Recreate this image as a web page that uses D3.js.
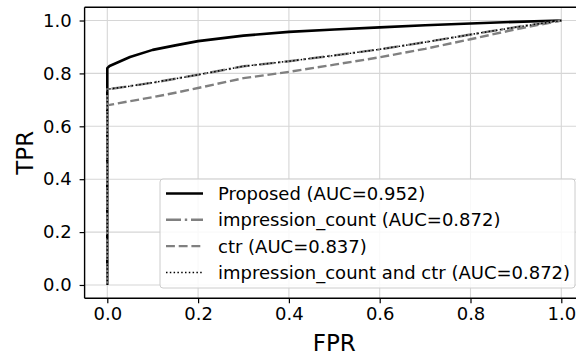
<!DOCTYPE html>
<html><head><meta charset="utf-8">
<script src="https://cdn.jsdelivr.net/npm/d3@7"></script>
<style>html,body{margin:0;padding:0;background:#fff;}svg{display:block;font-family:"DejaVu Sans",sans-serif;}</style>
</head><body><svg id="c" width="576" height="358"></svg>
<script>
const fpr = [0,0,0.005,0.05,0.1,0.15,0.2,0.3,0.4,0.5,0.6,0.7,0.8,0.9,1];
const tprProposed = [0,0.82,0.828,0.862,0.889,0.906,0.922,0.943,0.957,0.966,0.974,0.982,0.989,0.995,1];
const tprImpression = [0,0.74,0.741,0.752,0.765,0.78,0.795,0.827,0.846,0.868,0.891,0.918,0.947,0.975,1];
const tprCtr = [0,0.68,0.681,0.695,0.71,0.727,0.745,0.782,0.806,0.833,0.861,0.893,0.929,0.967,1];
const tprCombined = [0,0.74,0.741,0.752,0.765,0.78,0.795,0.827,0.846,0.868,0.891,0.918,0.947,0.975,1];
const seriesLabels = ["Proposed (AUC=0.952)","impression_count (AUC=0.872)","ctr (AUC=0.837)","impression_count and ctr (AUC=0.872)"];
const xTicks = [0,0.2,0.4,0.6,0.8,1.0];
const yTicks = [0,0.2,0.4,0.6,0.8,1.0];

const styles = [
  {color:"#000", width:2.6, dash:null},
  {color:"#808080", width:2.4, dash:"15,3.8,2.4,3.8"},
  {color:"#808080", width:2.4, dash:"8.9,3.8"},
  {color:"#000", width:1.5, dash:"1.5,2.3"}
];
const tprs = [tprProposed, tprImpression, tprCtr, tprCombined];

const svg = d3.select("#c");
const x = d3.scaleLinear().domain([-0.05,1.05]).range([84.6,584]);
const y = d3.scaleLinear().domain([-0.05,1.05]).range([298.2,7.3]);
const L = 84.6, R = 584, T = 7.3, B = 298.2;

// grid
const grid = svg.append("g");
grid.selectAll("line.gx").data(xTicks).join("line")
  .attr("x1",d=>x(d)).attr("x2",d=>x(d)).attr("y1",T).attr("y2",B)
  .attr("stroke","#d6d6d6").attr("stroke-width",1.1);
grid.selectAll("line.gy").data(yTicks).join("line").attr("class","gy")
  .attr("y1",d=>y(d)).attr("y2",d=>y(d)).attr("x1",L).attr("x2",R)
  .attr("stroke","#d6d6d6").attr("stroke-width",1.1);

// lines
const line = d3.line().x(d=>x(d[0])).y(d=>y(d[1]));
tprs.forEach((t,i)=>{
  const pts = fpr.map((f,j)=>[f,t[j]]);
  const p = svg.append("path").datum(pts).attr("d",line)
    .attr("fill","none").attr("stroke",styles[i].color).attr("stroke-width",styles[i].width)
    .attr("stroke-linejoin","round");
  if(styles[i].dash) p.attr("stroke-dasharray",styles[i].dash);
});

// axes
const fs = 18;
const xAxis = d3.axisBottom(x).tickValues(xTicks).tickFormat(d3.format(".1f")).tickSize(5).tickPadding(4);
const gx = svg.append("g").attr("transform",`translate(0,${B})`).call(xAxis);
gx.select(".domain").remove();
gx.selectAll("text").attr("font-size",fs).attr("font-family","DejaVu Sans").attr("fill","#000");
gx.selectAll("line").attr("stroke","#000").attr("stroke-width",1.2);
const yAxis = d3.axisLeft(y).tickValues(yTicks).tickFormat(d3.format(".1f")).tickSize(5).tickPadding(8);
const gy = svg.append("g").attr("transform",`translate(${L},0)`).call(yAxis);
gy.select(".domain").remove();
gy.selectAll("text").attr("font-size",fs).attr("font-family","DejaVu Sans").attr("fill","#000");
gy.selectAll("line").attr("stroke","#000").attr("stroke-width",1.2);

// spines
svg.append("line").attr("x1",L).attr("x2",R).attr("y1",T).attr("y2",T).attr("stroke","#000").attr("stroke-width",1.4);
svg.append("line").attr("x1",L).attr("x2",R).attr("y1",B).attr("y2",B).attr("stroke","#000").attr("stroke-width",1.4);
svg.append("line").attr("x1",L).attr("x2",L).attr("y1",T).attr("y2",B).attr("stroke","#000").attr("stroke-width",1.4);

// axis labels
svg.append("text").attr("x",(L+R)/2).attr("y",351).attr("text-anchor","middle").attr("font-size",23).text("FPR");
svg.append("text").attr("transform","translate(32.5,152.8) rotate(-90)").attr("text-anchor","middle").attr("font-size",23).text("TPR");

// legend
const lg = svg.append("g");
lg.append("rect").attr("x",160).attr("y",179).attr("width",415).attr("height",109).attr("rx",3)
  .attr("fill","#fff").attr("fill-opacity",0.85).attr("stroke","#cccccc").attr("stroke-width",1);
seriesLabels.forEach((lab,i)=>{
  const cy = 193.5 + i*26.3;
  const l = lg.append("line").attr("x1",166).attr("x2",203).attr("y1",cy).attr("y2",cy)
    .attr("stroke",styles[i].color).attr("stroke-width",styles[i].width);
  if(styles[i].dash) l.attr("stroke-dasharray",styles[i].dash);
  lg.append("text").attr("x",218).attr("y",cy+6.4).attr("font-size",fs).text(lab);
});
</script></body></html>
